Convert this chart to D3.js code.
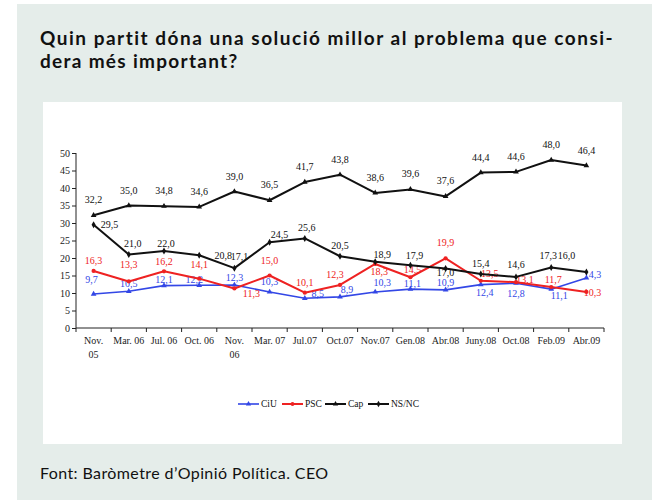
<!DOCTYPE html>
<html>
<head>
<meta charset="utf-8">
<script src="https://cdn.jsdelivr.net/npm/d3@7"></script>
<style>
	body { margin: 0; background: #fff; }
	.axis text { font-family: "Liberation Serif", "Times New Roman", serif; font-size: 10px; fill: #222; }
	.axis path, .axis line { stroke: #222; }
</style>
</head>
<body>
<div id="chart-area"></div>
<script>
// Categories (survey dates)
let categories = ["Nov.|05", "Mar. 06", "Jul. 06", "Oct. 06", "Nov.|06", "Mar. 07", "Jul.07", "Oct.07",
	"Nov.07", "Gen.08", "Abr.08", "Juny.08", "Oct.08", "Feb.09", "Abr.09"];

// Series values (%)
let ciu = [9.7, 10.5, 12.1, 12.2, 12.3, 10.3, 8.5, 8.9, 10.3, 11.1, 10.9, 12.4, 12.8, 11.1, 14.3];
let psc = [16.3, 13.3, 16.2, 14.1, 11.3, 15.0, 10.1, 12.3, 18.3, 14.5, 19.9, 13.5, 13.1, 11.7, 10.3];
let cap = [32.2, 35.0, 34.8, 34.6, 39.0, 36.5, 41.7, 43.8, 38.6, 39.6, 37.6, 44.4, 44.6, 48.0, 46.4];
let nsnc = [29.5, 21.0, 22.0, 20.8, 17.1, 24.5, 25.6, 20.5, 18.9, 17.9, 17.0, 15.4, 14.6, 17.3, 16.0];

// Y axis ticks
let yTicks = [0, 5, 10, 15, 20, 25, 30, 35, 40, 45, 50];

// label offsets (px) so the value labels don't overlap, as in the original
let ciuOff = [[-2,-15],[0,-8],[0,-6],[-5,-6],[0,-7],[0,-10],[13,-5],[7,-7],[7,-9],[2,-6],[0,-7],[4,8],[0,10],[8,6],[6,-3]];
let pscOff = [[0,-10],[0,-17],[0,-10],[0,-14],[17,5],[0,-15],[0,-10],[-5,-10],[4,8],[2,-8],[0,-16],[9,-7],[9,-3],[2,-8],[6,1]];
let nsOff = [[16,0],[4,-11],[2,-8],[24,0],[5,-12],[10,-8],[2,-11],[0,-11],[7,-7],[4,-10],[0,4],[0,-11],[0,-12],[-3,-12],[-20,-17]];

let series = [
	{name: "CiU", values: ciu, color: "#3347e6", width: 1.6, symbol: d3.symbolTriangle, off: ciuOff},
	{name: "PSC", values: psc, color: "#ee2222", width: 2, symbol: d3.symbolCircle, off: pscOff},
	{name: "Cap", values: cap, color: "#111", width: 2, symbol: d3.symbolTriangle, off: null},
	{name: "NS/NC", values: nsnc, color: "#111", width: 2, symbol: d3.symbolDiamond, off: nsOff}
];

let width = 657, height = 500;

let svg = d3.select("#chart-area")
	.append("svg")
	.attr("width", width)
	.attr("height", height);

// Panel background
svg.append("rect")
	.attr("x", 17).attr("y", 4)
	.attr("width", 635).attr("height", 496)
	.attr("fill", "#e5edea");

// Title
let title = svg.append("text")
	.attr("x", 40)
	.attr("y", 45)
	.attr("font-family", "Lato, 'Open Sans', sans-serif")
	.attr("font-weight", "bold")
	.attr("font-size", 19)
	.attr("letter-spacing", 1.3)
	.attr("fill", "#111");
title.append("tspan").attr("x", 40).attr("textLength", 574).attr("lengthAdjust", "spacing")
	.text("Quin partit dóna una solució millor al problema que consi-");
title.append("tspan").attr("x", 40).attr("dy", 23).text("dera més important?");

// White chart box
svg.append("rect")
	.attr("x", 43).attr("y", 102)
	.attr("width", 579).attr("height", 342)
	.attr("fill", "#fff");

// Footer
svg.append("text")
	.attr("x", 40)
	.attr("y", 479)
	.attr("font-family", "Lato, 'Open Sans', sans-serif")
	.attr("font-size", 16)
	.attr("letter-spacing", 0.4)
	.attr("fill", "#111")
	.text("Font: Baròmetre d’Opinió Política. CEO");

// Scales
let x = d3.scaleBand()
	.domain(categories)
	.range([76, 604]);

let y = d3.scaleLinear()
	.domain([0, 50])
	.range([328, 153]);

let cx = c => x(c) + x.bandwidth() / 2;

// Y axis
let yAxis = d3.axisLeft(y)
	.tickValues(yTicks)
	.tickSize(4)
	.tickPadding(2);

svg.append("g")
	.attr("class", "axis y-axis")
	.attr("transform", "translate(76,0)")
	.call(yAxis)
	.attr("font-family", "'Liberation Serif', 'Times New Roman', serif")
	.call(g => g.select(".domain").attr("d", "M0," + y(50) + "V" + y(0)));

// X axis: labels at band centres, ticks at band boundaries
let xAxis = d3.axisBottom(x).tickSize(0).tickPadding(9);

let xGroup = svg.append("g")
	.attr("class", "axis x-axis")
	.attr("transform", "translate(0," + y(0) + ")")
	.call(xAxis)
	.attr("font-family", "'Liberation Serif', 'Times New Roman', serif");

xGroup.select(".domain").attr("d", "M" + x.range()[0] + ",0H" + x.range()[1]);

xGroup.selectAll(".tick text")
	.text(null)
	.each(function(d) {
		let parts = d.split("|");
		let t = d3.select(this);
		parts.forEach((p, i) => {
			t.append("tspan").attr("x", 0).attr("dy", i === 0 ? "0.71em" : "1.35em").text(p);
		});
	});

xGroup.selectAll(".bound")
	.data(categories.map(c => x(c)).concat([x.range()[1]]))
	.enter()
	.append("line")
	.attr("class", "bound")
	.attr("x1", d => d).attr("x2", d => d)
	.attr("y1", 0).attr("y2", 4);

// Lines, markers and labels
let line = d3.line()
	.x((d, i) => cx(categories[i]))
	.y(d => y(d));

let fmt = v => d3.format(".1f")(v).replace(".", ",");

series.forEach(s => {
	let g = svg.append("g");

	g.append("path")
		.datum(s.values)
		.attr("fill", "none")
		.attr("stroke", s.color)
		.attr("stroke-width", s.width)
		.attr("stroke-linejoin", "round")
		.attr("d", line);

	g.selectAll(".marker")
		.data(s.values)
		.enter()
		.append("path")
		.attr("class", "marker")
		.attr("transform", (d, i) => "translate(" + cx(categories[i]) + "," + y(d) + ")")
		.attr("d", d3.symbol().type(s.symbol).size(14))
		.attr("fill", s.color);

	g.selectAll(".lbl")
		.data(s.values)
		.enter()
		.append("text")
		.attr("class", "lbl")
		.attr("x", (d, i) => cx(categories[i]) + (s.off ? s.off[i][0] : 0))
		.attr("y", (d, i) => y(d) + (s.off ? s.off[i][1] : -15.5))
		.attr("dy", "0.35em")
		.attr("text-anchor", "middle")
		.attr("font-family", "'Liberation Serif', 'Times New Roman', serif")
		.attr("font-size", 10)
		.attr("fill", s.color)
		.text(d => fmt(d));
});

// Legend
let legend = svg.append("g")
	.attr("transform", "translate(238,404)");

let legendX = [0, 44, 87, 130];

series.forEach((s, i) => {
	let item = legend.append("g").attr("transform", "translate(" + legendX[i] + ",0)");
	item.append("line")
		.attr("x1", 0).attr("x2", 21)
		.attr("stroke", s.color)
		.attr("stroke-width", s.width);
	item.append("path")
		.attr("transform", "translate(10.5,0)")
		.attr("d", d3.symbol().type(s.symbol).size(12))
		.attr("fill", s.color);
	item.append("text")
		.attr("x", 23)
		.attr("dy", "0.35em")
		.attr("font-family", "'Liberation Serif', 'Times New Roman', serif")
		.attr("font-size", 9.5)
		.attr("fill", "#111")
		.text(s.name);
});
</script>
</body>
</html>
